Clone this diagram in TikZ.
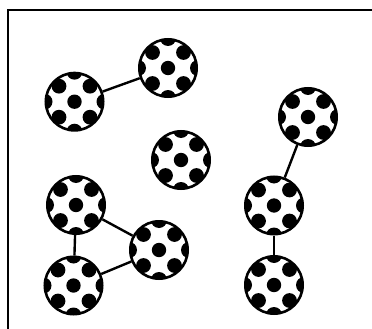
\documentclass[tikz,border=0pt]{standalone}
\usetikzlibrary{calc}

\tikzset{
    ball/.style={circle, draw, line width=2.6pt, minimum size=57.4pt, inner sep=0pt,
        path picture={
            \foreach \dx/\dy/\r in {0/0/7.2, 15.5/15.5/7.4, -15.5/15.5/7.4, 15.5/-15.5/7.4, -15.5/-15.5/7.4,
                                    0/30/8, 0/-30/8, 30/0/8, -30/0/8}
                \fill ([shift={(\dx pt,\dy pt)}]path picture bounding box.center) circle (\r pt);
        }},
    bond/.style={line width=2.4pt}
}

\begin{document}
\begin{tikzpicture}[x=1pt, y=-1pt]
    \useasboundingbox (0,0) rectangle (372,329);

    %frame
        \draw[line width=2.6pt] (8,329) -- (8,10.2) -- (372,10.2);

    %mark the balls
        \node[ball] (b1) at (74.5,101.7) {};
        \node[ball] (b2) at (168,68) {};
        \node[ball] (b3) at (181,160) {};
        \node[ball] (b4) at (308,117) {};
        \node[ball] (b5) at (274,205.5) {};
        \node[ball] (b6) at (274,285) {};
        \node[ball] (b7) at (76,205) {};
        \node[ball] (b8) at (73.5,285.5) {};
        \node[ball] (b9) at (159,250) {};

    %draw bonds
        \draw[bond] (b1) -- (b2);
        \draw[bond] (b4) -- (b5);
        \draw[bond] (b5) -- (b6);
        \draw[bond] (b7) -- (b8);
        \draw[bond] (b7) -- (b9);
        \draw[bond] (b8) -- (b9);

\end{tikzpicture}
\end{document}
